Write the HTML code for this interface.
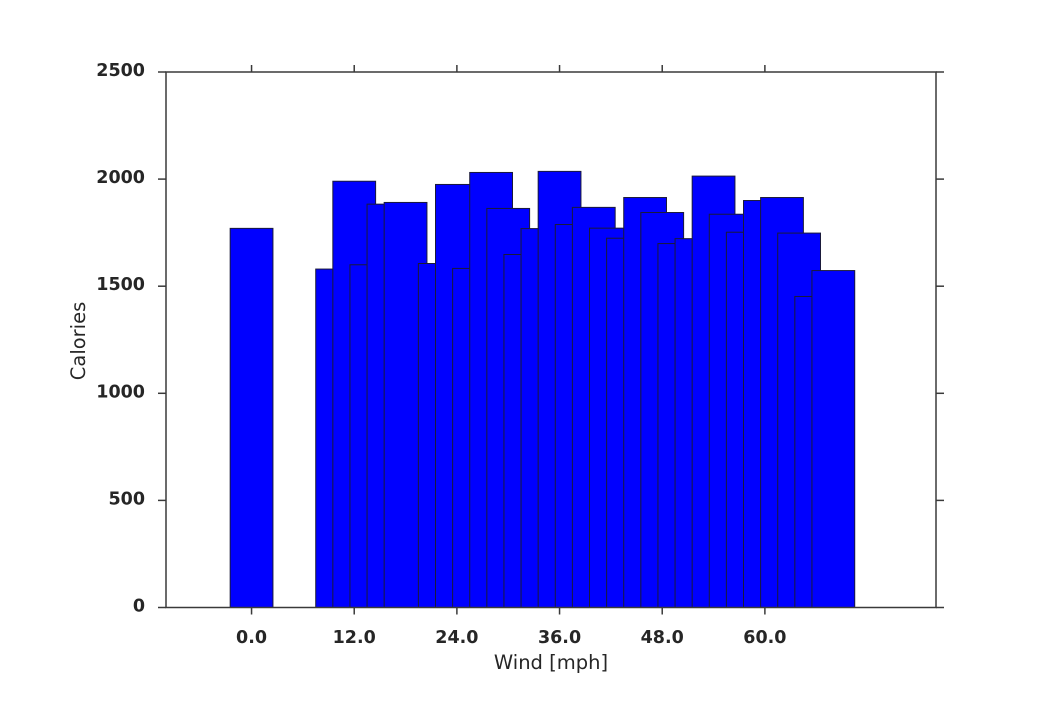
<!DOCTYPE html>
<html><head><meta charset="utf-8"><style>
body{margin:0;background:#fff;}
svg{display:block;font-family:"DejaVu Sans","Liberation Sans",sans-serif;}
</style></head><body>
<svg id="chart" width="1040" height="715" viewBox="0 0 1040 715" xmlns="http://www.w3.org/2000/svg">
<rect width="1040" height="715" fill="#fff"/>
<g id="bars"></g>
<g id="axes"></g>
<text x="551" y="669" font-size="19.5" fill="#262626" text-anchor="middle">Wind [mph]</text>
<text x="0" y="0" font-size="19.5" fill="#262626" text-anchor="middle" transform="translate(85,341) rotate(-90)">Calories</text>
</svg>
<script>
const winds = [0, 10, 12, 14, 16, 18, 22, 24, 26, 28, 30, 32, 34, 36, 38, 40, 42, 44, 46, 48, 50, 52, 54, 56, 58, 60, 62, 64, 66, 68];
const calories = [1770, 1580, 1990, 1600, 1883, 1891, 1606, 1975, 1583, 2031, 1863, 1648, 1769, 2036, 1788, 1868, 1771, 1724, 1914, 1844, 1699, 1722, 2014, 1836, 1752, 1900, 1914, 1748, 1452, 1573];
const xTicks = [0, 12, 24, 36, 48, 60];
const xTickLabels = ["0.0", "12.0", "24.0", "36.0", "48.0", "60.0"];
const yTicks = [0, 500, 1000, 1500, 2000, 2500];
const yTickLabels = ["0", "500", "1000", "1500", "2000", "2500"];
const barWidth = 5;

const L=166, R=936, T=72, B=607.5;
const xMin=-10, xMax=80, yMin=0, yMax=2500;
const xs = v => L + (v - xMin) / (xMax - xMin) * (R - L);
const ys = v => B - (v - yMin) / (yMax - yMin) * (B - T);
const NS = "http://www.w3.org/2000/svg";
function mk(tag, attrs, parent){const e=document.createElementNS(NS,tag);for(const k in attrs)e.setAttribute(k,attrs[k]);parent.appendChild(e);return e;}

const gb = document.getElementById('bars');
winds.forEach((w,i)=>{
  const x0=xs(w-barWidth/2), x1=xs(w+barWidth/2), y0=ys(calories[i]);
  const r=mk('rect',{x:x0,y:y0,width:x1-x0,height:B-y0,fill:'#0000ff',stroke:'#1a1a3a','stroke-width':1},gb);
  
  
});

const ga = document.getElementById('axes');
const sp = mk('rect',{x:L,y:T,width:R-L,height:B-T,fill:'none',stroke:'#3a3a3a','stroke-width':1.5},ga);


xTicks.forEach((t,i)=>{
  const x=xs(t);
  mk('line',{x1:x,x2:x,y1:B,y2:B+7,stroke:'#3a3a3a','stroke-width':1.5},ga);
  mk('line',{x1:x,x2:x,y1:T,y2:T-7,stroke:'#3a3a3a','stroke-width':1.5},ga);
  const tx=mk('text',{x:x,y:643,'font-size':17.5,'font-weight':'bold',fill:'#262626','text-anchor':'middle'},ga);
  tx.textContent=xTickLabels[i];
  
  
});
yTicks.forEach((t,i)=>{
  const y=ys(t);
  mk('line',{x1:L-8,x2:L,y1:y,y2:y,stroke:'#3a3a3a','stroke-width':1.5},ga);
  mk('line',{x1:R,x2:R+8,y1:y,y2:y,stroke:'#3a3a3a','stroke-width':1.5},ga);
  const tx=mk('text',{x:145,y:y+4,'font-size':17.5,'font-weight':'bold',fill:'#262626','text-anchor':'end'},ga);
  tx.textContent=yTickLabels[i];
  
  
});
</script>
</body></html>
